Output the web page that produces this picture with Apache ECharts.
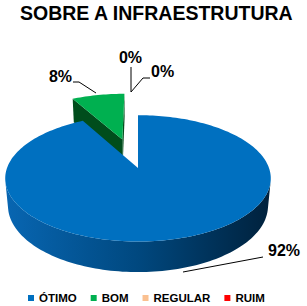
<!DOCTYPE html>
<html>
<head>
<meta charset="utf-8">
<script src="https://cdn.jsdelivr.net/npm/echarts@6/dist/echarts.min.js"></script>
<style>
html,body{margin:0;padding:0;background:#fff;}
#chart{width:307px;height:306px;}
</style>
</head>
<body>
<div id="chart"></div>
<script>
// ---- data ----
const categories = ['ÓTIMO', 'BOM', 'REGULAR', 'RUIM'];
const values = [92, 8, 0, 0];
const percentLabels = ['92%', '8%', '0%', '0%'];
const titleText = 'SOBRE A INFRAESTRUTURA';

// ---- styling / layout ----
const topColors = ['#0070C0', '#00B050', '#FAC090', '#FF0000'];
const sideColors = [
  {type:'linear', x:0, y:0, x2:1, y2:0, colorStops:[{offset:0,color:'#0866b2'},{offset:0.5,color:'#00487f'},{offset:1,color:'#00213c'}]},
  '#004d1c', '#c8906a', '#a00000'
];
const explode = [0, 0.52, 0.52, 0.52];
const P = {cx:138, cy:168, S:131, elev:28, L:5.4, h:0.24};
const labelLayout = [
  {x:268, y:250, align:'left', leader:[[183,272],[263,257]]},
  {x:72, y:76.5, align:'right', leader:[[96,93],[79,82],[73,82]]},
  {x:130.5, y:57, align:'center', leader:[[131,92],[131,67]]},
  {x:151, y:71, align:'left', leader:[[131,92],[143,78],[150,78]]}
];

const d2r = Math.PI/180;
const sa = Math.sin(P.elev*d2r), ca = Math.cos(P.elev*d2r);
const cam = [0, -P.L*ca, P.L*sa];
function proj(X, Y, Z){
  const v = Y*sa + Z*ca, w = Y*ca - Z*sa;
  const f = P.L/(P.L + w);
  return [P.cx + P.S*X*f, P.cy - P.S*v*f];
}
const total = values.reduce((a,b)=>a+b, 0);

function sliceRender(i){
  return function(params, api){
    let cum = 0; for (let k=0;k<i;k++) cum += values[k];
    if (values[i] <= 0) return {type:'group', children:[]};
    const a0 = (90 - cum/total*360)*d2r;
    const a1 = (90 - (cum+values[i])/total*360)*d2r;
    const mid = (a0+a1)/2;
    const e = explode[i];
    const ox = e*Math.cos(mid), oy = e*Math.sin(mid);
    const h = P.h;
    const n = Math.max(4, Math.ceil(Math.abs(a0-a1)/(1.5*d2r)));
    const angs = [];
    for (let k=0;k<=n;k++) angs.push(a0 + (a1-a0)*k/n);
    const children = [];
    // radial faces
    [[a0, a0+Math.PI/2],[a1, a1-Math.PI/2]].forEach(function(f){
      const nx = Math.cos(f[1]), ny = Math.sin(f[1]);
      const dot = nx*(cam[0]-ox) + ny*(cam[1]-oy);
      if (dot > 1e-6) {
        const px = ox+Math.cos(f[0]), py = oy+Math.sin(f[0]);
        children.push({type:'polygon', shape:{points:[proj(ox,oy,0), proj(px,py,0), proj(px,py,-h), proj(ox,oy,-h)]},
          style:{fill: typeof sideColors[i]==='string' ? sideColors[i] : '#004a85', stroke:null}});
      }
    });
    // outer wall runs
    let run = [];
    const runs = [];
    for (let k=0;k<n;k++){
      const am = (angs[k]+angs[k+1])/2;
      const px = ox+Math.cos(am), py = oy+Math.sin(am);
      const dot = Math.cos(am)*(cam[0]-px) + Math.sin(am)*(cam[1]-py);
      if (dot > 0){
        if (run.length===0) run.push(angs[k]);
        run.push(angs[k+1]);
      } else if (run.length){ runs.push(run); run = []; }
    }
    if (run.length) runs.push(run);
    runs.forEach(function(r){
      const topE = r.map(a=>proj(ox+Math.cos(a), oy+Math.sin(a), 0));
      const botE = r.slice().reverse().map(a=>proj(ox+Math.cos(a), oy+Math.sin(a), -h));
      children.push({type:'polygon', shape:{points: topE.concat(botE)}, style:{fill: sideColors[i], stroke:null}});
    });
    // top face
    const topPts = [proj(ox,oy,0)].concat(angs.map(a=>proj(ox+Math.cos(a), oy+Math.sin(a), 0)));
    children.push({type:'polygon', shape:{points: topPts}, style:{fill: topColors[i], stroke:null}});
    return {type:'group', children: children};
  };
}

function labelRender(params, api){
  const i = params.dataIndex;
  const L = labelLayout[i];
  return {type:'group', children:[
    {type:'polyline', shape:{points: L.leader}, style:{stroke:'#000', lineWidth:1, fill:null}},
    {type:'text', x:L.x, y:L.y, style:{text: percentLabels[i], fill:'#000', fontSize:16, fontWeight:'bold',
      fontFamily:'Liberation Sans', align:L.align, verticalAlign:'middle'}}
  ]};
}

const series = categories.map(function(name, i){
  let cum = 0; for (let k=0;k<i;k++) cum += values[k];
  const mid = (90 - (cum + values[i]/2)/total*360)*d2r;
  return {
    type:'custom', name:name, coordinateSystem:'none',
    z: Math.round(10 - 5*Math.sin(mid)),
    itemStyle:{color: topColors[i]},
    data:[[values[i]]],
    renderItem: sliceRender(i),
    silent:true
  };
});
series.push({
  type:'custom', name:'labels', coordinateSystem:'none', z:50,
  data: values.map(v=>[v]),
  renderItem: labelRender, silent:true
});

const chart = echarts.init(document.getElementById('chart'), null, {renderer:'svg'});
chart.setOption({
  animation:false,
  backgroundColor:'#fff',
  title:{text:titleText, left:20, top:3, padding:0,
    textStyle:{fontSize:19.5, fontWeight:'bold', fontFamily:'Liberation Sans', color:'#000'}},
  legend:{data:categories, left:28, top:292, itemWidth:6, itemHeight:6, itemGap:14, icon:'rect',
    padding:0, selectedMode:false,
    textStyle:{fontSize:11.5, fontWeight:'bold', fontFamily:'Liberation Sans', color:'#000'}},
  series: series
});
</script>
</body>
</html>
